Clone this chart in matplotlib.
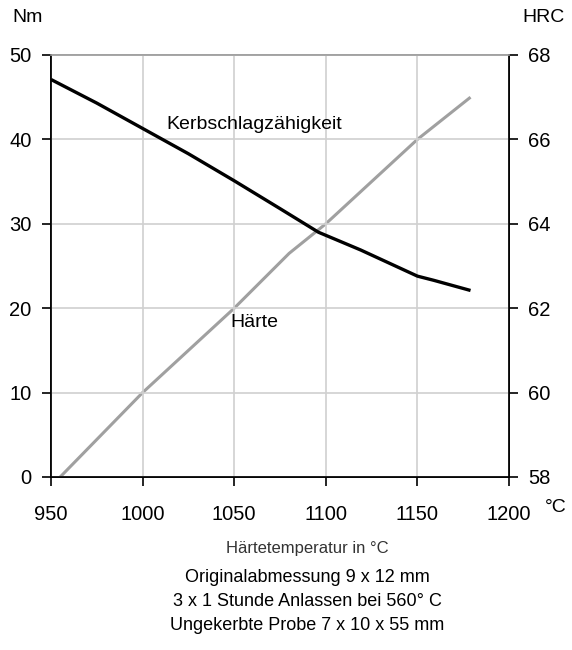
import matplotlib
matplotlib.use("Agg")
import matplotlib.pyplot as plt

# Kerbschlagzähigkeit (Nm, left axis)
temp_kerb = [950, 975, 1000, 1025, 1050, 1075, 1096, 1119, 1129, 1150, 1159, 1179]
kerb_nm = [47.1, 44.3, 41.3, 38.3, 35.1, 31.8, 29.0, 26.9, 25.9, 23.8, 23.3, 22.1]

# Härte (HRC, right axis)
temp_haerte = [955, 1000, 1050, 1080, 1100, 1150, 1179]
haerte_hrc = [58.0, 60.0, 62.0, 63.3, 64.0, 66.0, 67.0]

x_ticks = [950, 1000, 1050, 1100, 1150, 1200]
nm_ticks = [0, 10, 20, 30, 40, 50]
hrc_ticks = [58, 60, 62, 64, 66, 68]

notes = [
    "Originalabmessung 9 x 12 mm",
    "3 x 1 Stunde Anlassen bei 560° C",
    "Ungekerbte Probe 7 x 10 x 55 mm",
]

plt.rcParams["font.family"] = ["Liberation Sans", "DejaVu Sans"]

fig = plt.figure(figsize=(5.72, 6.5), dpi=100)
ax = fig.add_axes([51 / 572, 1 - 477 / 650, (509 - 51) / 572, (477 - 55) / 650])
ax2 = ax.twinx()

ax.set_xlim(950, 1200)
ax.set_ylim(0, 50)
ax2.set_ylim(58, 68)
ax.set_xticks(x_ticks)
ax.set_yticks(nm_ticks)
ax2.set_yticks(hrc_ticks)

ax.grid(True, color="#d0d0d0", linewidth=1.2)
ax.set_axisbelow(True)

ax2.plot(temp_haerte, haerte_hrc, color="#a0a0a0", linewidth=2.2, solid_capstyle="butt")
ax.plot(temp_kerb, kerb_nm, color="black", linewidth=2.4, solid_capstyle="butt", zorder=5)
ax.set_zorder(ax2.get_zorder() + 1)
ax.patch.set_visible(False)

for a in (ax, ax2):
    a.tick_params(length=6.5, width=1.2, labelsize=14.5, direction="out")
    a.tick_params(axis="y", pad=7.5)
    a.spines["top"].set_color("#a0a0a0")
    a.spines["top"].set_linewidth(1.2)
    for s in ("left", "right", "bottom"):
        a.spines[s].set_linewidth(1.2)
ax.tick_params(axis="x", pad=14)

ax.text(1061, 41.8, "Kerbschlagzähigkeit", ha="center", va="center", fontsize=14)
ax.text(1061, 18.3, "Härte", ha="center", va="center", fontsize=14)

fig.text(28 / 572, 1 - 18 / 650, "Nm", ha="center", va="center", fontsize=14)
fig.text(544 / 572, 1 - 18 / 650, "HRC", ha="center", va="center", fontsize=14)
fig.text(556 / 572, 1 - 507 / 650, "°C", ha="center", va="center", fontsize=14)

fig.text(307 / 572, 1 - 548 / 650, "Härtetemperatur in °C", ha="center", va="center",
         fontsize=12, color="#333333")
for i, line in enumerate(notes):
    fig.text(307 / 572, 1 - (578 + i * 23.5) / 650, line, ha="center", va="center",
             fontsize=13)

fig.savefig("out.png", dpi=100)
